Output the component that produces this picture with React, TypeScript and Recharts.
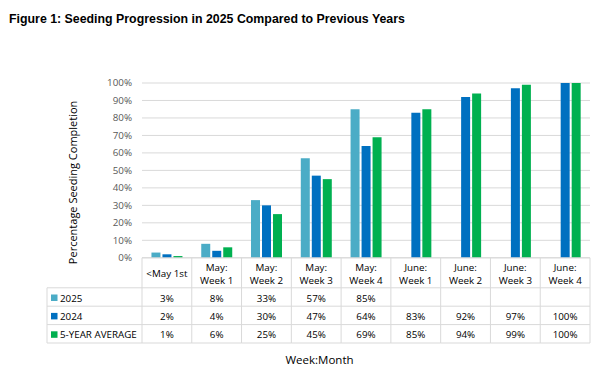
import React from 'react';
import { BarChart, Bar, XAxis, YAxis, CartesianGrid } from 'recharts';

const categories = ['<May 1st', 'May: Week 1', 'May: Week 2', 'May: Week 3', 'May: Week 4', 'June: Week 1', 'June: Week 2', 'June: Week 3', 'June: Week 4'];
const values2025: (number | null)[] = [3, 8, 33, 57, 85, null, null, null, null];
const values2024: (number | null)[] = [2, 4, 30, 47, 64, 83, 92, 97, 100];
const valuesAvg: (number | null)[] = [1, 6, 25, 45, 69, 85, 94, 99, 100];
const yTicks = [0, 10, 20, 30, 40, 50, 60, 70, 80, 90, 100];

const seriesInfo = [
  { key: 'y2025', name: '2025', color: '#4BACC6', values: values2025 },
  { key: 'y2024', name: '2024', color: '#0070C0', values: values2024 },
  { key: 'avg', name: '5-YEAR AVERAGE', color: '#00B050', values: valuesAvg },
];

const data = categories.map((cat, i) => ({
  cat,
  y2025: values2025[i],
  y2024: values2024[i],
  avg: valuesAvg[i],
}));

const W = 613;
const H = 377;
const MARGIN = { top: 83, right: 23, bottom: 34, left: 72 };
const Y_AXIS_W = 70;
const PLOT_W = W - MARGIN.left - MARGIN.right - Y_AXIS_W;
const COL_W = PLOT_W / categories.length;
const HEADER_H = 30;
const ROW_H = 18.4;
const TABLE_H = HEADER_H + ROW_H * 3;
const LEGEND_W = 95;
const BORDER = '#D9D9D9';
const FONT = "'Open Sans', 'Noto Sans', sans-serif";
const TXT = '#000000';
const TFS = 9.8;

function TableTick(props: any) {
  const { x, y, payload, index } = props;
  const half = COL_W / 2;
  const cat: string = payload.value;
  const lines = cat.includes(':') ? [cat.split(': ')[0] + ':', cat.split(': ')[1]] : [cat];
  const left = x - half;
  const right = x + half;
  const rowYs = [HEADER_H, HEADER_H + ROW_H, HEADER_H + ROW_H * 2, TABLE_H];
  return (
    <g>
      <line x1={right} y1={y} x2={right} y2={y + TABLE_H} stroke={BORDER} strokeWidth={1} />
      {index === 0 && <line x1={left} y1={y} x2={left} y2={y + TABLE_H} stroke={BORDER} strokeWidth={1} />}
      {rowYs.map((ry, k) => (
        <line key={k} x1={index === 0 ? left - LEGEND_W : left} y1={y + ry} x2={right} y2={y + ry} stroke={BORDER} strokeWidth={1} />
      ))}
      {index === 0 && (
        <line x1={left - LEGEND_W} y1={y + HEADER_H} x2={left - LEGEND_W} y2={y + TABLE_H} stroke={BORDER} strokeWidth={1} />
      )}
      {lines.length === 1 ? (
        <text x={x} y={y + 16} textAnchor="middle" dominantBaseline="central" fontSize={TFS} fontFamily={FONT} fill={TXT}>
          {lines[0]}
        </text>
      ) : (
        lines.map((l, k) => (
          <text key={k} x={x} y={y + 9.7 + k * 13} textAnchor="middle" dominantBaseline="central" fontSize={TFS} fontFamily={FONT} fill={TXT}>
            {l}
          </text>
        ))
      )}
      {seriesInfo.map((s, k) => {
        const v = s.values[index];
        return (
          <text key={s.key} x={x} y={y + HEADER_H + ROW_H * (k + 0.5) + 1} textAnchor="middle" dominantBaseline="central" fontSize={TFS} fontFamily={FONT} fill={TXT}>
            {v == null ? '' : `${v}%`}
          </text>
        );
      })}
      {index === 0 &&
        seriesInfo.map((s, k) => {
          const cy = y + HEADER_H + ROW_H * (k + 0.5) + 1;
          return (
            <g key={s.key}>
              <rect x={left - LEGEND_W + 4} y={cy - 3.5} width={6.5} height={6.5} fill={s.color} />
              <text x={left - LEGEND_W + 13} y={cy} dominantBaseline="central" fontSize={TFS} fontFamily={FONT} fill={TXT}>
                {s.name}
              </text>
            </g>
          );
        })}
    </g>
  );
}

export default function App() {
  return (
    <div style={{ position: 'absolute', left: 0, top: 0, width: W, height: H, background: '#fff' }}>
      <div
        style={{
          position: 'absolute',
          left: 9,
          top: 11,
          fontFamily: "'Liberation Sans', Arial, sans-serif",
          fontWeight: 'bold',
          fontSize: 13.5,
          lineHeight: '15px',
          color: '#000',
          whiteSpace: 'nowrap',
          transform: 'scaleX(0.915)',
          transformOrigin: '0 0',
        }}
      >
        Figure 1: Seeding Progression in 2025 Compared to Previous Years
      </div>
      <BarChart width={W} height={H} data={data} margin={MARGIN} barCategoryGap="19%" barGap={2}>
        <CartesianGrid vertical={false} stroke={BORDER} strokeWidth={1} />
        <XAxis
          dataKey="cat"
          height={TABLE_H}
          interval={0}
          tickLine={false}
          tickSize={0}
          tickMargin={0}
          axisLine={{ stroke: BORDER }}
          tick={<TableTick />}
          label={{
            content: (p: any) => {
              const vb = p.viewBox;
              return (
                <text
                  x={(vb.x - LEGEND_W + vb.x + vb.width) / 2 + 1}
                  y={vb.y + vb.height + 16}
                  textAnchor="middle"
                  dominantBaseline="central"
                  fontSize={11.5}
                  fontFamily={FONT}
                  fill="#000"
                >
                  Week:Month
                </text>
              );
            },
          }}
        />
        <YAxis
          width={Y_AXIS_W}
          domain={[0, 100]}
          ticks={yTicks}
          interval={0}
          tickFormatter={(v: number) => `${v}%`}
          axisLine={false}
          tickLine={false}
          tickSize={0}
          tickMargin={10}
          tick={{ fontSize: 9.8, fill: '#595959', fontFamily: FONT }}
          label={{
            content: (p: any) => {
              const vb = p.viewBox;
              const cx = vb.x + 1;
              const cy = vb.y + vb.height / 2 + 12;
              return (
                <text
                  x={cx}
                  y={cy}
                  transform={`rotate(-90 ${cx} ${cy})`}
                  textAnchor="middle"
                  dominantBaseline="central"
                  fontSize={11}
                  fontFamily={FONT}
                  fill="#000"
                >
                  Percentage Seeding Completion
                </text>
              );
            },
          }}
        />
        {seriesInfo.map((s) => (
          <Bar key={s.key} dataKey={s.key} name={s.name} fill={s.color} isAnimationActive={false} />
        ))}
      </BarChart>
    </div>
  );
}
